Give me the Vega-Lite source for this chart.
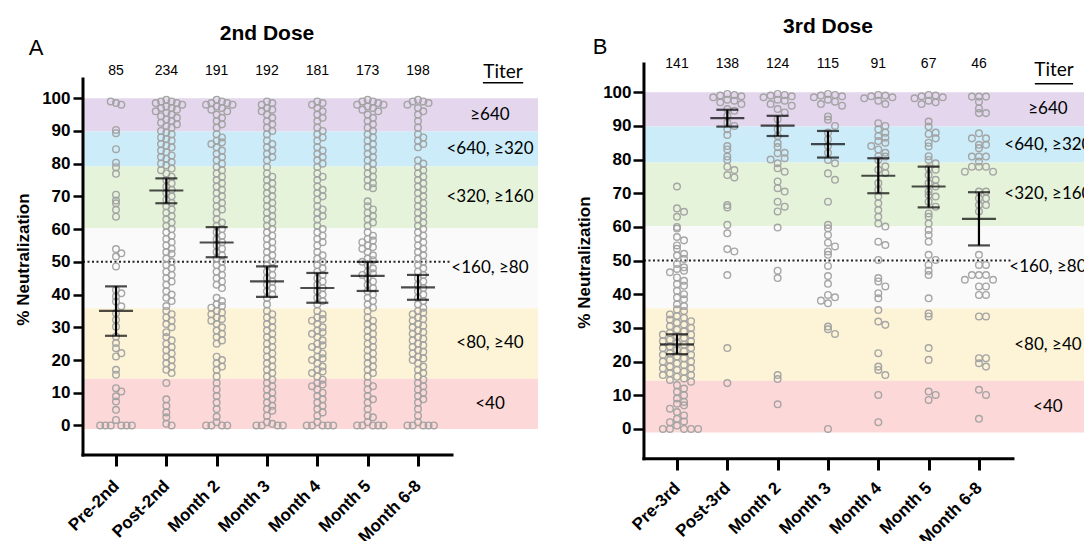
{
"$schema":"https://vega.github.io/schema/vega-lite/v6.json",
"width":1084,"height":541,"padding":0,"autosize":{"type":"none"},
"config":{"view":{"stroke":null},"axis":{"grid":false}},
"datasets":{
"bands":[{"c":"≥640","lo":89.8,"hi":100},{"c":"<640, ≥320","lo":79.1,"hi":89.8},{"c":"<320, ≥160","lo":60.3,"hi":79.1},{"c":"<160, ≥80","lo":35.8,"hi":60.3},{"c":"<80, ≥40","lo":14.3,"hi":35.8},{"c":"<40","lo":-1.1,"hi":14.3}],
"errA":[{"g":1,"m":35.0,"lo":27.4,"hi":42.5},{"g":2,"m":71.8,"lo":67.9,"hi":75.5},{"g":3,"m":55.9,"lo":51.4,"hi":60.6},{"g":4,"m":44.0,"lo":39.3,"hi":48.6},{"g":5,"m":42.0,"lo":37.5,"hi":46.6},{"g":6,"m":45.7,"lo":41.1,"hi":50.0},{"g":7,"m":42.2,"lo":38.4,"hi":46.0}],
"errB":[{"g":1,"m":25.1,"lo":22.2,"hi":28.1},{"g":2,"m":92.3,"lo":89.8,"hi":94.8},{"g":3,"m":90.1,"lo":87.0,"hi":93.0},{"g":4,"m":84.6,"lo":80.6,"hi":88.5},{"g":5,"m":75.2,"lo":70.0,"hi":80.4},{"g":6,"m":72.0,"lo":65.8,"hi":77.9},{"g":7,"m":62.4,"lo":54.5,"hi":70.3}],
"cntA":[{"g":1,"n":"85"},{"g":2,"n":"234"},{"g":3,"n":"191"},{"g":4,"n":"192"},{"g":5,"n":"181"},{"g":6,"n":"173"},{"g":7,"n":"198"}],
"cntB":[{"g":1,"n":"141"},{"g":2,"n":"138"},{"g":3,"n":"124"},{"g":4,"n":"115"},{"g":5,"n":"91"},{"g":6,"n":"67"},{"g":7,"n":"46"}],
"ptsA":[
{"g":1,"v":98.5},{"g":1,"v":98},{"g":1,"v":99},{"g":1,"v":90.3},{"g":1,"v":89.3},{"g":1,"v":84.4},{"g":1,"v":80.3},{"g":1,"v":78.9},{"g":1,"v":76.9},{"g":1,"v":70.5},{"g":1,"v":68.7},{"g":1,"v":67.9},{"g":1,"v":65.9},{"g":1,"v":63.8},{"g":1,"v":53.9},{"g":1,"v":52.6},{"g":1,"v":51.6},{"g":1,"v":48.6},{"g":1,"v":41.4},{"g":1,"v":40.4},{"g":1,"v":39.4},{"g":1,"v":37.9},{"g":1,"v":36.4},{"g":1,"v":34.3},{"g":1,"v":32.3},{"g":1,"v":30.2},{"g":1,"v":27.2},{"g":1,"v":25.2},{"g":1,"v":23.6},{"g":1,"v":22.1},{"g":1,"v":21.1},{"g":1,"v":17},{"g":1,"v":15.5},{"g":1,"v":11.4},{"g":1,"v":10.4},{"g":1,"v":8.9},{"g":1,"v":7.3},{"g":1,"v":4.8},{"g":1,"v":1.7},{"g":1,"v":0},{"g":1,"v":0},{"g":1,"v":0},{"g":1,"v":0},{"g":1,"v":0},{"g":1,"v":0},
{"g":2,"v":99.5},{"g":2,"v":99},{"g":2,"v":99},{"g":2,"v":98.5},{"g":2,"v":98.5},{"g":2,"v":98},{"g":2,"v":97.5},{"g":2,"v":97},{"g":2,"v":97},{"g":2,"v":96.5},{"g":2,"v":96},{"g":2,"v":95.5},{"g":2,"v":95},{"g":2,"v":94.5},{"g":2,"v":94},{"g":2,"v":93.5},{"g":2,"v":93},{"g":2,"v":92.5},{"g":2,"v":92},{"g":2,"v":91.5},{"g":2,"v":91},{"g":2,"v":90},{"g":2,"v":89.5},{"g":2,"v":89},{"g":2,"v":88},{"g":2,"v":87.5},{"g":2,"v":87},{"g":2,"v":86},{"g":2,"v":85.5},{"g":2,"v":85},{"g":2,"v":84},{"g":2,"v":83.5},{"g":2,"v":82.5},{"g":2,"v":82},{"g":2,"v":81.5},{"g":2,"v":80.5},{"g":2,"v":80},{"g":2,"v":79.5},{"g":2,"v":78.5},{"g":2,"v":78},{"g":2,"v":77},{"g":2,"v":76},{"g":2,"v":75},{"g":2,"v":74},{"g":2,"v":73},{"g":2,"v":72},{"g":2,"v":71},{"g":2,"v":70},{"g":2,"v":69},{"g":2,"v":68},{"g":2,"v":67},{"g":2,"v":66},{"g":2,"v":65},{"g":2,"v":64},{"g":2,"v":63},{"g":2,"v":62},{"g":2,"v":61},{"g":2,"v":60},{"g":2,"v":59},{"g":2,"v":58},{"g":2,"v":57},{"g":2,"v":56},{"g":2,"v":55},{"g":2,"v":54},{"g":2,"v":53},{"g":2,"v":52.5},{"g":2,"v":51},{"g":2,"v":50},{"g":2,"v":49},{"g":2,"v":48},{"g":2,"v":47},{"g":2,"v":46},{"g":2,"v":45},{"g":2,"v":44},{"g":2,"v":43},{"g":2,"v":41},{"g":2,"v":40},{"g":2,"v":39},{"g":2,"v":38},{"g":2,"v":36.5},{"g":2,"v":35},{"g":2,"v":34},{"g":2,"v":33},{"g":2,"v":32},{"g":2,"v":31},{"g":2,"v":30},{"g":2,"v":28.5},{"g":2,"v":27},{"g":2,"v":26},{"g":2,"v":25},{"g":2,"v":24},{"g":2,"v":23},{"g":2,"v":22},{"g":2,"v":21},{"g":2,"v":20},{"g":2,"v":19},{"g":2,"v":18},{"g":2,"v":17},{"g":2,"v":16},{"g":2,"v":13},{"g":2,"v":8},{"g":2,"v":6},{"g":2,"v":4},{"g":2,"v":2.5},{"g":2,"v":0.5},{"g":2,"v":0},
{"g":3,"v":99.5},{"g":3,"v":99},{"g":3,"v":98.5},{"g":3,"v":98.5},{"g":3,"v":98},{"g":3,"v":98},{"g":3,"v":97.5},{"g":3,"v":97},{"g":3,"v":96.5},{"g":3,"v":96},{"g":3,"v":95},{"g":3,"v":94},{"g":3,"v":93},{"g":3,"v":92},{"g":3,"v":91},{"g":3,"v":89},{"g":3,"v":88},{"g":3,"v":87},{"g":3,"v":86.5},{"g":3,"v":86},{"g":3,"v":85},{"g":3,"v":84},{"g":3,"v":83},{"g":3,"v":82},{"g":3,"v":81},{"g":3,"v":80},{"g":3,"v":79},{"g":3,"v":78},{"g":3,"v":77},{"g":3,"v":76},{"g":3,"v":75},{"g":3,"v":74},{"g":3,"v":73},{"g":3,"v":72},{"g":3,"v":71},{"g":3,"v":70},{"g":3,"v":69},{"g":3,"v":68},{"g":3,"v":67},{"g":3,"v":66},{"g":3,"v":65},{"g":3,"v":63},{"g":3,"v":62},{"g":3,"v":61},{"g":3,"v":60},{"g":3,"v":59},{"g":3,"v":58},{"g":3,"v":57},{"g":3,"v":56},{"g":3,"v":55},{"g":3,"v":54},{"g":3,"v":53},{"g":3,"v":52},{"g":3,"v":51},{"g":3,"v":50},{"g":3,"v":49},{"g":3,"v":48},{"g":3,"v":47},{"g":3,"v":46},{"g":3,"v":45},{"g":3,"v":44},{"g":3,"v":43},{"g":3,"v":42},{"g":3,"v":39},{"g":3,"v":38},{"g":3,"v":37},{"g":3,"v":36.5},{"g":3,"v":36},{"g":3,"v":35},{"g":3,"v":34.5},{"g":3,"v":34},{"g":3,"v":33},{"g":3,"v":32.5},{"g":3,"v":32},{"g":3,"v":31},{"g":3,"v":30},{"g":3,"v":29},{"g":3,"v":28},{"g":3,"v":27},{"g":3,"v":26},{"g":3,"v":25},{"g":3,"v":21},{"g":3,"v":20},{"g":3,"v":19},{"g":3,"v":18},{"g":3,"v":17},{"g":3,"v":15},{"g":3,"v":13},{"g":3,"v":11},{"g":3,"v":9},{"g":3,"v":7},{"g":3,"v":5},{"g":3,"v":2.7},{"g":3,"v":1},{"g":3,"v":0},{"g":3,"v":0},{"g":3,"v":0},{"g":3,"v":0},
{"g":4,"v":99},{"g":4,"v":98.5},{"g":4,"v":98},{"g":4,"v":97},{"g":4,"v":96.5},{"g":4,"v":96},{"g":4,"v":95},{"g":4,"v":94},{"g":4,"v":93},{"g":4,"v":92},{"g":4,"v":91},{"g":4,"v":90},{"g":4,"v":89},{"g":4,"v":87},{"g":4,"v":86},{"g":4,"v":85},{"g":4,"v":84},{"g":4,"v":83},{"g":4,"v":82},{"g":4,"v":81},{"g":4,"v":79},{"g":4,"v":77},{"g":4,"v":76},{"g":4,"v":75},{"g":4,"v":74},{"g":4,"v":73},{"g":4,"v":72},{"g":4,"v":71},{"g":4,"v":70},{"g":4,"v":69},{"g":4,"v":68},{"g":4,"v":67},{"g":4,"v":66},{"g":4,"v":65},{"g":4,"v":64},{"g":4,"v":63},{"g":4,"v":62},{"g":4,"v":61},{"g":4,"v":60},{"g":4,"v":59},{"g":4,"v":58},{"g":4,"v":57},{"g":4,"v":56},{"g":4,"v":55},{"g":4,"v":54},{"g":4,"v":53},{"g":4,"v":52},{"g":4,"v":51},{"g":4,"v":50},{"g":4,"v":49},{"g":4,"v":48},{"g":4,"v":47},{"g":4,"v":46},{"g":4,"v":45},{"g":4,"v":44},{"g":4,"v":43},{"g":4,"v":42},{"g":4,"v":41},{"g":4,"v":40},{"g":4,"v":39},{"g":4,"v":37},{"g":4,"v":35},{"g":4,"v":34},{"g":4,"v":33},{"g":4,"v":32},{"g":4,"v":31},{"g":4,"v":30},{"g":4,"v":29},{"g":4,"v":28},{"g":4,"v":27},{"g":4,"v":26},{"g":4,"v":25},{"g":4,"v":24},{"g":4,"v":23},{"g":4,"v":22},{"g":4,"v":21},{"g":4,"v":20},{"g":4,"v":19},{"g":4,"v":18},{"g":4,"v":17},{"g":4,"v":16},{"g":4,"v":15},{"g":4,"v":14},{"g":4,"v":13},{"g":4,"v":12},{"g":4,"v":11},{"g":4,"v":10},{"g":4,"v":9},{"g":4,"v":8},{"g":4,"v":7},{"g":4,"v":6},{"g":4,"v":5},{"g":4,"v":4.5},{"g":4,"v":3},{"g":4,"v":1},{"g":4,"v":0.5},{"g":4,"v":0},{"g":4,"v":0},{"g":4,"v":0},{"g":4,"v":0},
{"g":5,"v":99},{"g":5,"v":98.5},{"g":5,"v":98},{"g":5,"v":97},{"g":5,"v":96},{"g":5,"v":95},{"g":5,"v":94},{"g":5,"v":93},{"g":5,"v":91},{"g":5,"v":90},{"g":5,"v":89},{"g":5,"v":88},{"g":5,"v":87},{"g":5,"v":85},{"g":5,"v":84},{"g":5,"v":83},{"g":5,"v":82},{"g":5,"v":81},{"g":5,"v":80},{"g":5,"v":79},{"g":5,"v":77},{"g":5,"v":76},{"g":5,"v":75},{"g":5,"v":73},{"g":5,"v":72},{"g":5,"v":71},{"g":5,"v":70},{"g":5,"v":69},{"g":5,"v":67},{"g":5,"v":66},{"g":5,"v":65},{"g":5,"v":64},{"g":5,"v":63},{"g":5,"v":61},{"g":5,"v":60},{"g":5,"v":59},{"g":5,"v":58},{"g":5,"v":57},{"g":5,"v":56},{"g":5,"v":55},{"g":5,"v":53},{"g":5,"v":52},{"g":5,"v":51},{"g":5,"v":50},{"g":5,"v":49},{"g":5,"v":48},{"g":5,"v":47},{"g":5,"v":46},{"g":5,"v":45},{"g":5,"v":44},{"g":5,"v":43},{"g":5,"v":42},{"g":5,"v":41},{"g":5,"v":40},{"g":5,"v":39},{"g":5,"v":38},{"g":5,"v":37},{"g":5,"v":35},{"g":5,"v":34},{"g":5,"v":33},{"g":5,"v":32.5},{"g":5,"v":32},{"g":5,"v":31},{"g":5,"v":30},{"g":5,"v":29},{"g":5,"v":28.5},{"g":5,"v":28},{"g":5,"v":27},{"g":5,"v":26},{"g":5,"v":25},{"g":5,"v":24.5},{"g":5,"v":24},{"g":5,"v":23},{"g":5,"v":22},{"g":5,"v":21},{"g":5,"v":20.5},{"g":5,"v":20},{"g":5,"v":19},{"g":5,"v":18},{"g":5,"v":17},{"g":5,"v":16.5},{"g":5,"v":16},{"g":5,"v":15},{"g":5,"v":14},{"g":5,"v":13},{"g":5,"v":12.5},{"g":5,"v":12},{"g":5,"v":11},{"g":5,"v":10},{"g":5,"v":9},{"g":5,"v":8},{"g":5,"v":7},{"g":5,"v":6},{"g":5,"v":5},{"g":5,"v":4},{"g":5,"v":3},{"g":5,"v":1},{"g":5,"v":0},{"g":5,"v":0},{"g":5,"v":0},{"g":5,"v":0},{"g":5,"v":0},
{"g":6,"v":99.5},{"g":6,"v":99},{"g":6,"v":99},{"g":6,"v":98.5},{"g":6,"v":98},{"g":6,"v":98},{"g":6,"v":97.5},{"g":6,"v":97},{"g":6,"v":96.5},{"g":6,"v":96},{"g":6,"v":95},{"g":6,"v":94},{"g":6,"v":93},{"g":6,"v":92},{"g":6,"v":91},{"g":6,"v":90},{"g":6,"v":89},{"g":6,"v":88},{"g":6,"v":87},{"g":6,"v":86},{"g":6,"v":85},{"g":6,"v":84},{"g":6,"v":83},{"g":6,"v":82},{"g":6,"v":81},{"g":6,"v":80},{"g":6,"v":79},{"g":6,"v":78},{"g":6,"v":77},{"g":6,"v":76},{"g":6,"v":75},{"g":6,"v":74},{"g":6,"v":73},{"g":6,"v":72.5},{"g":6,"v":68.5},{"g":6,"v":67},{"g":6,"v":66},{"g":6,"v":65},{"g":6,"v":64},{"g":6,"v":63},{"g":6,"v":62},{"g":6,"v":61},{"g":6,"v":59},{"g":6,"v":58},{"g":6,"v":57},{"g":6,"v":56.5},{"g":6,"v":56},{"g":6,"v":55},{"g":6,"v":54.5},{"g":6,"v":54},{"g":6,"v":53},{"g":6,"v":52},{"g":6,"v":51},{"g":6,"v":50.5},{"g":6,"v":50},{"g":6,"v":49},{"g":6,"v":48},{"g":6,"v":47},{"g":6,"v":46.5},{"g":6,"v":46},{"g":6,"v":45},{"g":6,"v":44},{"g":6,"v":43},{"g":6,"v":42},{"g":6,"v":41},{"g":6,"v":40},{"g":6,"v":39},{"g":6,"v":38},{"g":6,"v":37},{"g":6,"v":36},{"g":6,"v":35},{"g":6,"v":33},{"g":6,"v":32},{"g":6,"v":31},{"g":6,"v":30},{"g":6,"v":29},{"g":6,"v":28},{"g":6,"v":27},{"g":6,"v":26},{"g":6,"v":25},{"g":6,"v":24},{"g":6,"v":23},{"g":6,"v":22},{"g":6,"v":21},{"g":6,"v":20},{"g":6,"v":19},{"g":6,"v":18},{"g":6,"v":17},{"g":6,"v":16},{"g":6,"v":15},{"g":6,"v":13},{"g":6,"v":12},{"g":6,"v":11},{"g":6,"v":9},{"g":6,"v":8},{"g":6,"v":7},{"g":6,"v":5},{"g":6,"v":3},{"g":6,"v":2.5},{"g":6,"v":1},{"g":6,"v":0},{"g":6,"v":0},{"g":6,"v":0},{"g":6,"v":0},{"g":6,"v":0},
{"g":7,"v":99.5},{"g":7,"v":99},{"g":7,"v":99},{"g":7,"v":98.5},{"g":7,"v":98},{"g":7,"v":97},{"g":7,"v":96},{"g":7,"v":95},{"g":7,"v":93},{"g":7,"v":91},{"g":7,"v":89},{"g":7,"v":88},{"g":7,"v":87},{"g":7,"v":86},{"g":7,"v":85},{"g":7,"v":81},{"g":7,"v":80},{"g":7,"v":79},{"g":7,"v":78},{"g":7,"v":77},{"g":7,"v":76},{"g":7,"v":75},{"g":7,"v":74},{"g":7,"v":73},{"g":7,"v":72},{"g":7,"v":71},{"g":7,"v":70},{"g":7,"v":69},{"g":7,"v":68},{"g":7,"v":67},{"g":7,"v":66},{"g":7,"v":65},{"g":7,"v":64},{"g":7,"v":63},{"g":7,"v":62},{"g":7,"v":61},{"g":7,"v":60},{"g":7,"v":59},{"g":7,"v":58},{"g":7,"v":57},{"g":7,"v":56},{"g":7,"v":55},{"g":7,"v":54},{"g":7,"v":53},{"g":7,"v":52},{"g":7,"v":51},{"g":7,"v":50},{"g":7,"v":49},{"g":7,"v":48},{"g":7,"v":47},{"g":7,"v":46},{"g":7,"v":45},{"g":7,"v":44},{"g":7,"v":43},{"g":7,"v":42},{"g":7,"v":41},{"g":7,"v":40},{"g":7,"v":39},{"g":7,"v":38},{"g":7,"v":37},{"g":7,"v":36},{"g":7,"v":35},{"g":7,"v":34.5},{"g":7,"v":34},{"g":7,"v":33},{"g":7,"v":32.5},{"g":7,"v":32},{"g":7,"v":31},{"g":7,"v":30.5},{"g":7,"v":30},{"g":7,"v":29},{"g":7,"v":28.5},{"g":7,"v":28},{"g":7,"v":27},{"g":7,"v":26.5},{"g":7,"v":26},{"g":7,"v":25},{"g":7,"v":24.5},{"g":7,"v":24},{"g":7,"v":23},{"g":7,"v":22.5},{"g":7,"v":22},{"g":7,"v":21},{"g":7,"v":20.5},{"g":7,"v":20},{"g":7,"v":19},{"g":7,"v":18},{"g":7,"v":17},{"g":7,"v":16},{"g":7,"v":15},{"g":7,"v":14},{"g":7,"v":13},{"g":7,"v":12},{"g":7,"v":11},{"g":7,"v":10},{"g":7,"v":9},{"g":7,"v":8},{"g":7,"v":7},{"g":7,"v":5},{"g":7,"v":3},{"g":7,"v":1},{"g":7,"v":0},{"g":7,"v":0},{"g":7,"v":0},{"g":7,"v":0},{"g":7,"v":0}
],
"ptsB":[
{"g":1,"v":72},{"g":1,"v":65.5},{"g":1,"v":64.5},{"g":1,"v":63},{"g":1,"v":60},{"g":1,"v":59.5},{"g":1,"v":57},{"g":1,"v":56},{"g":1,"v":54.5},{"g":1,"v":53.5},{"g":1,"v":52},{"g":1,"v":51.5},{"g":1,"v":50.5},{"g":1,"v":49},{"g":1,"v":48},{"g":1,"v":47.5},{"g":1,"v":47},{"g":1,"v":46.5},{"g":1,"v":45},{"g":1,"v":44},{"g":1,"v":43},{"g":1,"v":42.5},{"g":1,"v":41},{"g":1,"v":40},{"g":1,"v":39},{"g":1,"v":38.5},{"g":1,"v":37},{"g":1,"v":36.5},{"g":1,"v":35.5},{"g":1,"v":35},{"g":1,"v":34},{"g":1,"v":33.5},{"g":1,"v":33},{"g":1,"v":32.5},{"g":1,"v":32},{"g":1,"v":31.5},{"g":1,"v":31},{"g":1,"v":30.5},{"g":1,"v":30},{"g":1,"v":29.5},{"g":1,"v":29},{"g":1,"v":28.5},{"g":1,"v":28},{"g":1,"v":27.5},{"g":1,"v":27},{"g":1,"v":26.5},{"g":1,"v":26},{"g":1,"v":25.5},{"g":1,"v":25},{"g":1,"v":24.5},{"g":1,"v":24},{"g":1,"v":23.5},{"g":1,"v":23},{"g":1,"v":22.5},{"g":1,"v":22},{"g":1,"v":21.5},{"g":1,"v":21},{"g":1,"v":20.5},{"g":1,"v":20},{"g":1,"v":19.5},{"g":1,"v":19},{"g":1,"v":18.5},{"g":1,"v":18},{"g":1,"v":17.5},{"g":1,"v":17},{"g":1,"v":16.5},{"g":1,"v":16},{"g":1,"v":15.5},{"g":1,"v":15},{"g":1,"v":14.5},{"g":1,"v":14},{"g":1,"v":13},{"g":1,"v":12},{"g":1,"v":11},{"g":1,"v":10},{"g":1,"v":9},{"g":1,"v":8},{"g":1,"v":7.5},{"g":1,"v":7},{"g":1,"v":6},{"g":1,"v":5},{"g":1,"v":4},{"g":1,"v":3},{"g":1,"v":2.2},{"g":1,"v":2},{"g":1,"v":1},{"g":1,"v":0},{"g":1,"v":0},{"g":1,"v":0},{"g":1,"v":0},{"g":1,"v":0},{"g":1,"v":28},{"g":1,"v":26},{"g":1,"v":24},{"g":1,"v":22},{"g":1,"v":20},{"g":1,"v":18},{"g":1,"v":16},
{"g":2,"v":99.5},{"g":2,"v":99.2},{"g":2,"v":99},{"g":2,"v":98.8},{"g":2,"v":98.5},{"g":2,"v":97.8},{"g":2,"v":97.5},{"g":2,"v":97},{"g":2,"v":96.5},{"g":2,"v":95},{"g":2,"v":94.5},{"g":2,"v":93},{"g":2,"v":91},{"g":2,"v":90},{"g":2,"v":89},{"g":2,"v":87.3},{"g":2,"v":84},{"g":2,"v":83},{"g":2,"v":80.9},{"g":2,"v":79.9},{"g":2,"v":77.9},{"g":2,"v":76.9},{"g":2,"v":75.4},{"g":2,"v":74.7},{"g":2,"v":66.5},{"g":2,"v":65.8},{"g":2,"v":60.6},{"g":2,"v":58.1},{"g":2,"v":53.4},{"g":2,"v":52.7},{"g":2,"v":45.7},{"g":2,"v":24},{"g":2,"v":13.6},
{"g":3,"v":99.5},{"g":3,"v":99.2},{"g":3,"v":99},{"g":3,"v":98.8},{"g":3,"v":98.5},{"g":3,"v":97.8},{"g":3,"v":97.5},{"g":3,"v":96.5},{"g":3,"v":96},{"g":3,"v":95},{"g":3,"v":94},{"g":3,"v":92},{"g":3,"v":89},{"g":3,"v":87},{"g":3,"v":84.9},{"g":3,"v":83.7},{"g":3,"v":82},{"g":3,"v":81.9},{"g":3,"v":80.4},{"g":3,"v":80},{"g":3,"v":78.9},{"g":3,"v":77.4},{"g":3,"v":76.4},{"g":3,"v":73.5},{"g":3,"v":71.5},{"g":3,"v":70.5},{"g":3,"v":67.5},{"g":3,"v":66},{"g":3,"v":64.6},{"g":3,"v":59.8},{"g":3,"v":47},{"g":3,"v":44.8},{"g":3,"v":16},{"g":3,"v":14.8},{"g":3,"v":7.3},
{"g":4,"v":99.5},{"g":4,"v":99.2},{"g":4,"v":99},{"g":4,"v":98.8},{"g":4,"v":98.5},{"g":4,"v":97.8},{"g":4,"v":97.2},{"g":4,"v":96.5},{"g":4,"v":96},{"g":4,"v":92.8},{"g":4,"v":91.8},{"g":4,"v":90},{"g":4,"v":88},{"g":4,"v":86},{"g":4,"v":84},{"g":4,"v":82},{"g":4,"v":79.9},{"g":4,"v":78.9},{"g":4,"v":75.9},{"g":4,"v":74},{"g":4,"v":67.5},{"g":4,"v":60.6},{"g":4,"v":59.6},{"g":4,"v":57.6},{"g":4,"v":55.3},{"g":4,"v":54.2},{"g":4,"v":52.7},{"g":4,"v":51.7},{"g":4,"v":48.4},{"g":4,"v":45.4},{"g":4,"v":43.1},{"g":4,"v":39.8},{"g":4,"v":39.1},{"g":4,"v":38.1},{"g":4,"v":37.3},{"g":4,"v":30.4},{"g":4,"v":29.6},{"g":4,"v":28.2},{"g":4,"v":0},
{"g":5,"v":99.2},{"g":5,"v":99},{"g":5,"v":98.8},{"g":5,"v":98.5},{"g":5,"v":98.2},{"g":5,"v":97.5},{"g":5,"v":96.5},{"g":5,"v":90.8},{"g":5,"v":90},{"g":5,"v":89},{"g":5,"v":88},{"g":5,"v":87},{"g":5,"v":86.5},{"g":5,"v":85.5},{"g":5,"v":85},{"g":5,"v":84},{"g":5,"v":83},{"g":5,"v":82},{"g":5,"v":81},{"g":5,"v":80.9},{"g":5,"v":79.9},{"g":5,"v":78},{"g":5,"v":77},{"g":5,"v":76},{"g":5,"v":73},{"g":5,"v":71},{"g":5,"v":69},{"g":5,"v":67},{"g":5,"v":65},{"g":5,"v":63},{"g":5,"v":61},{"g":5,"v":60.1},{"g":5,"v":55.6},{"g":5,"v":54.6},{"g":5,"v":50.2},{"g":5,"v":44.8},{"g":5,"v":43.8},{"g":5,"v":42.3},{"g":5,"v":40.3},{"g":5,"v":38.8},{"g":5,"v":35.3},{"g":5,"v":31.9},{"g":5,"v":30.9},{"g":5,"v":22.5},{"g":5,"v":18.5},{"g":5,"v":17.5},{"g":5,"v":16},{"g":5,"v":10.1},{"g":5,"v":2},
{"g":6,"v":99.2},{"g":6,"v":99},{"g":6,"v":98.8},{"g":6,"v":98.5},{"g":6,"v":98.2},{"g":6,"v":97.5},{"g":6,"v":97},{"g":6,"v":96.5},{"g":6,"v":91.3},{"g":6,"v":89.8},{"g":6,"v":88},{"g":6,"v":87.6},{"g":6,"v":86.3},{"g":6,"v":85},{"g":6,"v":83.9},{"g":6,"v":81},{"g":6,"v":79.9},{"g":6,"v":78.9},{"g":6,"v":77.4},{"g":6,"v":77},{"g":6,"v":75.4},{"g":6,"v":74},{"g":6,"v":73},{"g":6,"v":72},{"g":6,"v":70.5},{"g":6,"v":69.5},{"g":6,"v":69},{"g":6,"v":67.5},{"g":6,"v":66},{"g":6,"v":64},{"g":6,"v":63},{"g":6,"v":61},{"g":6,"v":59.1},{"g":6,"v":57.6},{"g":6,"v":55.6},{"g":6,"v":51.7},{"g":6,"v":50.2},{"g":6,"v":48.7},{"g":6,"v":47},{"g":6,"v":45.7},{"g":6,"v":38.8},{"g":6,"v":34.3},{"g":6,"v":33.4},{"g":6,"v":24},{"g":6,"v":20.5},{"g":6,"v":11.1},{"g":6,"v":10.1},{"g":6,"v":8.6},
{"g":7,"v":98.7},{"g":7,"v":98.7},{"g":7,"v":98.7},{"g":7,"v":97.2},{"g":7,"v":95.2},{"g":7,"v":93.8},{"g":7,"v":93.8},{"g":7,"v":87.8},{"g":7,"v":86.3},{"g":7,"v":86.3},{"g":7,"v":84.4},{"g":7,"v":84.4},{"g":7,"v":83.4},{"g":7,"v":80.9},{"g":7,"v":80.9},{"g":7,"v":80.9},{"g":7,"v":79.4},{"g":7,"v":77.9},{"g":7,"v":77.9},{"g":7,"v":77.9},{"g":7,"v":76.4},{"g":7,"v":76.4},{"g":7,"v":70.5},{"g":7,"v":70.5},{"g":7,"v":68.5},{"g":7,"v":68.5},{"g":7,"v":66.5},{"g":7,"v":66.5},{"g":7,"v":64.6},{"g":7,"v":51.7},{"g":7,"v":48.7},{"g":7,"v":48.7},{"g":7,"v":45.7},{"g":7,"v":45.7},{"g":7,"v":45.7},{"g":7,"v":44.3},{"g":7,"v":44.3},{"g":7,"v":42.3},{"g":7,"v":42.3},{"g":7,"v":39.8},{"g":7,"v":39.8},{"g":7,"v":33.4},{"g":7,"v":33.4},{"g":7,"v":21},{"g":7,"v":21},{"g":7,"v":19.5},{"g":7,"v":18.5},{"g":7,"v":11.6},{"g":7,"v":10.1},{"g":7,"v":3}
]
},
"layer":[
{"data":{"name":"bands"},"mark":{"type":"rect"},
 "encoding":{"x":{"datum":0.344,"type":"quantitative","scale":{"domain":[-1.305,20.233],"nice":false,"zero":false},"axis":null},"x2":{"datum":9.384},
  "y":{"field":"lo","type":"quantitative","scale":{"domain":[-35.3,130],"nice":false,"zero":false},"axis":null},"y2":{"field":"hi"},
  "color":{"field":"c","type":"nominal","scale":{"domain":["≥640","<640, ≥320","<320, ≥160","<160, ≥80","<80, ≥40","<40"],"range":["#e3d6ed","#cbecf8","#e6f3db","#fafafa","#fdf3d7","#fdd8d8"]},"legend":null}}},
{"data":{"values":[{}]},"mark":{"type":"rule","strokeDash":[2,2.5],"strokeWidth":2,"color":"#222"},
 "encoding":{"x":{"datum":0.344,"type":"quantitative","scale":{"domain":[-1.305,20.233],"nice":false,"zero":false},"axis":null},"x2":{"datum":7.676},"y":{"datum":50,"type":"quantitative","scale":{"domain":[-35.3,130],"nice":false,"zero":false},"axis":null}}},
{"data":{"name":"ptsA"},
 "transform":[{"bin":{"extent":[0,100],"step":2},"field":"v","as":"vb"},{"window":[{"op":"row_number","as":"r"}],"groupby":["g","vb"]},{"calculate":"datum.g + (datum.r % 2 == 0 ? 0.105 : -0.105) * floor(datum.r / 2)","as":"px"}],
 "mark":{"type":"point","shape":"circle","filled":false,"size":44,"strokeWidth":1.4,"color":"#a2a2a2","opacity":0.95},
 "encoding":{
  "x":{"field":"px","type":"quantitative","scale":{"domain":[-1.305,20.233],"nice":false,"zero":false},
   "axis":{"values":[1,2,3,4,5,6,7],"labelExpr":"['Pre-2nd','Post-2nd','Month 2','Month 3','Month 4','Month 5','Month 6-8'][datum.value-1]","orient":"bottom","offset":-86,"domain":false,"grid":false,"ticks":true,"tickSize":11,"tickWidth":3,"tickColor":"black","labelAngle":-45,"labelAlign":"right","labelBaseline":"middle","labelFont":"Liberation Sans","labelFontWeight":"bold","labelFontSize":17,"labelColor":"black","labelPadding":17,"labelOverlap":false,"labelBound":false,"labelFlush":false,"title":null}},
  "y":{"field":"v","type":"quantitative","scale":{"domain":[-35.3,130],"nice":false,"zero":false},
   "axis":{"values":[0,10,20,30,40,50,60,70,80,90,100],"orient":"left","offset":-83,"domain":false,"grid":false,"ticks":true,"tickSize":10,"tickWidth":2.5,"tickColor":"black","labelFont":"Liberation Sans","labelFontWeight":"bold","labelFontSize":17,"labelColor":"black","labelPadding":3,"labelOverlap":false,"labelBound":false,"labelFlush":false,"title":"% Neutralization","titleFont":"Liberation Sans","titleFontSize":17,"titleFontWeight":"bold","titleColor":"black","titlePadding":9,"titleY":259}}}},
{"data":{"name":"errA"},"mark":{"type":"rule","strokeWidth":2.2,"color":"black"},
 "encoding":{"x":{"field":"g","type":"quantitative","scale":{"domain":[-1.305,20.233],"nice":false,"zero":false},"axis":null},"y":{"field":"lo","type":"quantitative","scale":{"domain":[-35.3,130],"nice":false,"zero":false},"axis":null},"y2":{"field":"hi"}}},
{"data":{"name":"errA"},"mark":{"type":"tick","orient":"horizontal","size":34,"thickness":2.2,"color":"black"},
 "encoding":{"x":{"field":"g","type":"quantitative","scale":{"domain":[-1.305,20.233],"nice":false,"zero":false},"axis":null},"y":{"field":"m","type":"quantitative","scale":{"domain":[-35.3,130],"nice":false,"zero":false},"axis":null}}},
{"data":{"name":"errA"},"transform":[{"fold":["lo","hi"],"as":["k","e"]}],"mark":{"type":"tick","orient":"horizontal","size":22,"thickness":2.2,"color":"black"},
 "encoding":{"x":{"field":"g","type":"quantitative","scale":{"domain":[-1.305,20.233],"nice":false,"zero":false},"axis":null},"y":{"field":"e","type":"quantitative","scale":{"domain":[-35.3,130],"nice":false,"zero":false},"axis":null}}},
{"data":{"values":[{}]},"mark":{"type":"rule","strokeWidth":3,"color":"black","strokeCap":"square"},
 "encoding":{"x":{"datum":0.344,"type":"quantitative","scale":{"domain":[-1.305,20.233],"nice":false,"zero":false},"axis":null},"y":{"datum":-9.0,"type":"quantitative","scale":{"domain":[-35.3,130],"nice":false,"zero":false},"axis":null},"y2":{"datum":105.9}}},
{"data":{"values":[{}]},"mark":{"type":"rule","strokeWidth":3,"color":"black","strokeCap":"square"},
 "encoding":{"x":{"datum":0.344,"type":"quantitative","scale":{"domain":[-1.305,20.233],"nice":false,"zero":false},"axis":null},"x2":{"datum":7.676},"y":{"datum":-9.0,"type":"quantitative","scale":{"domain":[-35.3,130],"nice":false,"zero":false},"axis":null}}},
{"data":{"name":"cntA"},"mark":{"type":"text","font":"Liberation Sans","fontSize":14,"color":"black","align":"center","baseline":"middle"},
 "encoding":{"x":{"field":"g","type":"quantitative","scale":{"domain":[-1.305,20.233],"nice":false,"zero":false},"axis":null},"y":{"datum":108.4,"type":"quantitative","scale":{"domain":[-35.3,130],"nice":false,"zero":false},"axis":null},"text":{"field":"n","type":"nominal"}}},
{"data":{"values":[{}]},"mark":{"type":"text","font":"Liberation Sans","fontSize":21,"fontWeight":"bold","color":"black","align":"center","baseline":"middle","text":"2nd Dose"},
 "encoding":{"x":{"datum":4,"type":"quantitative","scale":{"domain":[-1.305,20.233],"nice":false,"zero":false},"axis":null},"y":{"datum":119.7,"type":"quantitative","scale":{"domain":[-35.3,130],"nice":false,"zero":false},"axis":null}}},
{"data":{"values":[{}]},"mark":{"type":"text","font":"Liberation Sans","fontSize":22,"color":"black","align":"center","baseline":"middle","text":"A"},
 "encoding":{"x":{"datum":-0.59,"type":"quantitative","scale":{"domain":[-1.305,20.233],"nice":false,"zero":false},"axis":null},"y":{"datum":115.3,"type":"quantitative","scale":{"domain":[-35.3,130],"nice":false,"zero":false},"axis":null}}},
{"data":{"values":[{}]},"mark":{"type":"text","font":"Lato","fontSize":19,"color":"black","align":"center","baseline":"middle","text":"Titer"},
 "encoding":{"x":{"datum":8.69,"type":"quantitative","scale":{"domain":[-1.305,20.233],"nice":false,"zero":false},"axis":null},"y":{"datum":108.0,"type":"quantitative","scale":{"domain":[-35.3,130],"nice":false,"zero":false},"axis":null}}},
{"data":{"values":[{}]},"mark":{"type":"rule","strokeWidth":1.5,"color":"black"},
 "encoding":{"x":{"datum":8.29,"type":"quantitative","scale":{"domain":[-1.305,20.233],"nice":false,"zero":false},"axis":null},"x2":{"datum":9.09},"y":{"datum":104.7,"type":"quantitative","scale":{"domain":[-35.3,130],"nice":false,"zero":false},"axis":null}}},
{"data":{"name":"bands"},"transform":[{"fold":["lo","hi"],"as":["k","e"]}],"mark":{"type":"text","font":"Lato","fontSize":17,"color":"black","align":"center","baseline":"middle"},
 "encoding":{"x":{"datum":8.43,"type":"quantitative","scale":{"domain":[-1.305,20.233],"nice":false,"zero":false},"axis":null},"y":{"aggregate":"mean","field":"e","type":"quantitative","scale":{"domain":[-35.3,130],"nice":false,"zero":false},"axis":null},"text":{"field":"c","type":"nominal"}}},
{"data":{"name":"bands"},"mark":{"type":"rect"},
 "encoding":{"x":{"datum":0.344,"type":"quantitative","scale":{"domain":[-12.451,9.087],"nice":false,"zero":false},"axis":null},"x2":{"datum":9.087},
  "y":{"field":"lo","type":"quantitative","scale":{"domain":[-33.3,127.4],"nice":false,"zero":false},"axis":null},"y2":{"field":"hi"},
  "color":{"field":"c","type":"nominal","scale":{"domain":["≥640","<640, ≥320","<320, ≥160","<160, ≥80","<80, ≥40","<40"],"range":["#e3d6ed","#cbecf8","#e6f3db","#fafafa","#fdf3d7","#fdd8d8"]},"legend":null}}},
{"data":{"values":[{}]},"mark":{"type":"rule","strokeDash":[2,2.5],"strokeWidth":2,"color":"#222"},
 "encoding":{"x":{"datum":0.344,"type":"quantitative","scale":{"domain":[-12.451,9.087],"nice":false,"zero":false},"axis":null},"x2":{"datum":7.676},"y":{"datum":50,"type":"quantitative","scale":{"domain":[-33.3,127.4],"nice":false,"zero":false},"axis":null}}},
{"data":{"name":"ptsB"},
 "transform":[{"bin":{"extent":[0,100],"step":2},"field":"v","as":"vb"},{"window":[{"op":"row_number","as":"r"}],"groupby":["g","vb"]},{"calculate":"datum.g + (datum.r % 2 == 0 ? 0.14 : -0.14) * floor(datum.r / 2)","as":"px"}],
 "mark":{"type":"point","shape":"circle","filled":false,"size":44,"strokeWidth":1.4,"color":"#a2a2a2","opacity":0.95},
 "encoding":{
  "x":{"field":"px","type":"quantitative","scale":{"domain":[-12.451,9.087],"nice":false,"zero":false},
   "axis":{"values":[1,2,3,4,5,6,7],"labelExpr":"['Pre-3rd','Post-3rd','Month 2','Month 3','Month 4','Month 5','Month 6-8'][datum.value-1]","orient":"bottom","offset":-82,"domain":false,"grid":false,"ticks":true,"tickSize":11,"tickWidth":3,"tickColor":"black","labelAngle":-45,"labelAlign":"right","labelBaseline":"middle","labelFont":"Liberation Sans","labelFontWeight":"bold","labelFontSize":17,"labelColor":"black","labelPadding":15,"labelOverlap":false,"labelBound":false,"labelFlush":false,"title":null}},
  "y":{"field":"v","type":"quantitative","scale":{"domain":[-33.3,127.4],"nice":false,"zero":false},
   "axis":{"values":[0,10,20,30,40,50,60,70,80,90,100],"orient":"left","offset":-644,"domain":false,"grid":false,"ticks":true,"tickSize":11,"tickWidth":2.5,"tickColor":"black","labelFont":"Liberation Sans","labelFontWeight":"bold","labelFontSize":17,"labelColor":"black","labelPadding":2,"labelOverlap":false,"labelBound":false,"labelFlush":false,"title":"% Neutralization","titleFont":"Liberation Sans","titleFontSize":17,"titleFontWeight":"bold","titleColor":"black","titlePadding":9,"titleY":262}}}},
{"data":{"name":"errB"},"mark":{"type":"rule","strokeWidth":2.2,"color":"black"},
 "encoding":{"x":{"field":"g","type":"quantitative","scale":{"domain":[-12.451,9.087],"nice":false,"zero":false},"axis":null},"y":{"field":"lo","type":"quantitative","scale":{"domain":[-33.3,127.4],"nice":false,"zero":false},"axis":null},"y2":{"field":"hi"}}},
{"data":{"name":"errB"},"mark":{"type":"tick","orient":"horizontal","size":34,"thickness":2.2,"color":"black"},
 "encoding":{"x":{"field":"g","type":"quantitative","scale":{"domain":[-12.451,9.087],"nice":false,"zero":false},"axis":null},"y":{"field":"m","type":"quantitative","scale":{"domain":[-33.3,127.4],"nice":false,"zero":false},"axis":null}}},
{"data":{"name":"errB"},"transform":[{"fold":["lo","hi"],"as":["k","e"]}],"mark":{"type":"tick","orient":"horizontal","size":22,"thickness":2.2,"color":"black"},
 "encoding":{"x":{"field":"g","type":"quantitative","scale":{"domain":[-12.451,9.087],"nice":false,"zero":false},"axis":null},"y":{"field":"e","type":"quantitative","scale":{"domain":[-33.3,127.4],"nice":false,"zero":false},"axis":null}}},
{"data":{"values":[{}]},"mark":{"type":"rule","strokeWidth":3,"color":"black","strokeCap":"square"},
 "encoding":{"x":{"datum":0.344,"type":"quantitative","scale":{"domain":[-12.451,9.087],"nice":false,"zero":false},"axis":null},"y":{"datum":-8.9,"type":"quantitative","scale":{"domain":[-33.3,127.4],"nice":false,"zero":false},"axis":null},"y2":{"datum":108.4}}},
{"data":{"values":[{}]},"mark":{"type":"rule","strokeWidth":3,"color":"black","strokeCap":"square"},
 "encoding":{"x":{"datum":0.344,"type":"quantitative","scale":{"domain":[-12.451,9.087],"nice":false,"zero":false},"axis":null},"x2":{"datum":7.676},"y":{"datum":-8.9,"type":"quantitative","scale":{"domain":[-33.3,127.4],"nice":false,"zero":false},"axis":null}}},
{"data":{"name":"cntB"},"mark":{"type":"text","font":"Liberation Sans","fontSize":14,"color":"black","align":"center","baseline":"middle"},
 "encoding":{"x":{"field":"g","type":"quantitative","scale":{"domain":[-12.451,9.087],"nice":false,"zero":false},"axis":null},"y":{"datum":108.4,"type":"quantitative","scale":{"domain":[-33.3,127.4],"nice":false,"zero":false},"axis":null},"text":{"field":"n","type":"nominal"}}},
{"data":{"values":[{}]},"mark":{"type":"text","font":"Liberation Sans","fontSize":21,"fontWeight":"bold","color":"black","align":"center","baseline":"middle","text":"3rd Dose"},
 "encoding":{"x":{"datum":4,"type":"quantitative","scale":{"domain":[-12.451,9.087],"nice":false,"zero":false},"axis":null},"y":{"datum":119.4,"type":"quantitative","scale":{"domain":[-33.3,127.4],"nice":false,"zero":false},"axis":null}}},
{"data":{"values":[{}]},"mark":{"type":"text","font":"Liberation Sans","fontSize":22,"color":"black","align":"center","baseline":"middle","text":"B"},
 "encoding":{"x":{"datum":-0.53,"type":"quantitative","scale":{"domain":[-12.451,9.087],"nice":false,"zero":false},"axis":null},"y":{"datum":113.5,"type":"quantitative","scale":{"domain":[-33.3,127.4],"nice":false,"zero":false},"axis":null}}},
{"data":{"values":[{}]},"mark":{"type":"text","font":"Lato","fontSize":19,"color":"black","align":"center","baseline":"middle","text":"Titer"},
 "encoding":{"x":{"datum":8.49,"type":"quantitative","scale":{"domain":[-12.451,9.087],"nice":false,"zero":false},"axis":null},"y":{"datum":106.6,"type":"quantitative","scale":{"domain":[-33.3,127.4],"nice":false,"zero":false},"axis":null}}},
{"data":{"values":[{}]},"mark":{"type":"rule","strokeWidth":1.5,"color":"black"},
 "encoding":{"x":{"datum":8.11,"type":"quantitative","scale":{"domain":[-12.451,9.087],"nice":false,"zero":false},"axis":null},"x2":{"datum":8.87},"y":{"datum":102.5,"type":"quantitative","scale":{"domain":[-33.3,127.4],"nice":false,"zero":false},"axis":null}}},
{"data":{"name":"bands"},"transform":[{"fold":["lo","hi"],"as":["k","e"]}],"mark":{"type":"text","font":"Lato","fontSize":17,"color":"black","align":"center","baseline":"middle"},
 "encoding":{"x":{"datum":8.37,"type":"quantitative","scale":{"domain":[-12.451,9.087],"nice":false,"zero":false},"axis":null},"y":{"aggregate":"mean","field":"e","type":"quantitative","scale":{"domain":[-33.3,127.4],"nice":false,"zero":false},"axis":null},"text":{"field":"c","type":"nominal"}}}
],
"resolve":{"scale":{"x":"independent","y":"independent","color":"independent"},"axis":{"x":"independent","y":"independent"}}
}
